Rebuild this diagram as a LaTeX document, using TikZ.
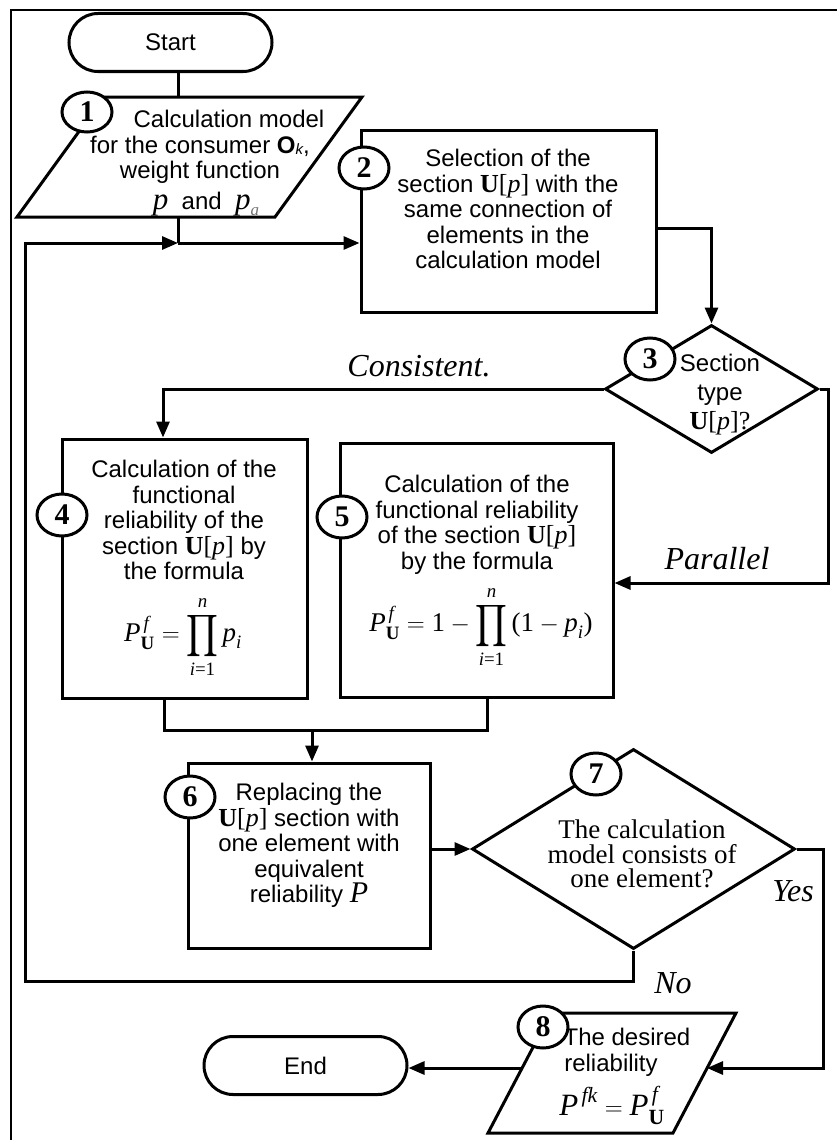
\documentclass[tikz,border=0pt]{standalone}
\usepackage[no-math]{fontspec}
\usepackage{amsmath}
\usepackage{graphicx}
\setmainfont{Liberation Sans}
\newfontfamily\tms{Liberation Serif}
\usetikzlibrary{arrows.meta,shapes.geometric,shapes.misc}
\newcommand{\myit}[1]{\text{\tms\itshape #1}}
\newcommand{\mybf}[1]{\text{\tms\bfseries #1}}
\newcommand{\myrm}[1]{\text{\tms #1}}
\newcommand{\Up}{{\tms\fontsize{26}{25.5}\selectfont\textbf{U}[\textit{p}]}}
\newcommand{\bigprod}{\mathop{\vcenter{\hbox{\scalebox{1}[1.18]{$\displaystyle\prod$}}}}\limits}
\begin{document}
\begin{tikzpicture}[x=1pt,y=-1pt,
  conn/.style={line width=3pt},
  arr/.style={line width=3pt,-{Triangle[length=16pt,width=13pt]}},
  blk/.style={draw,line width=3pt,fill=white,inner sep=0pt},
  term/.style={draw,line width=3pt,rounded rectangle,minimum width=203pt,minimum height=58pt,inner sep=0pt,font=\fontsize{24}{26}\selectfont},
  dia/.style={draw,line width=3pt,diamond,inner sep=0pt,fill=white},
  num/.style={draw,ellipse,line width=3pt,fill=white,minimum width=50pt,minimum height=42pt,inner sep=0pt,font=\tms\bfseries\fontsize{30}{30}\selectfont},
  txt/.style={align=center,inner sep=0pt,font=\fontsize{24}{25.5}\selectfont},
  frm/.style={inner sep=0pt,font=\fontsize{27}{30}\selectfont},
  lab/.style={inner sep=0pt,font=\tms\itshape\fontsize{32}{32}\selectfont}]

\useasboundingbox (0,0) rectangle (837,1140);
\draw[line width=2pt] (837,10) -- (11,10) -- (11,1140);

% shapes
\node[term] (start) at (170.5,42.5) {Start};
\node[term] (end) at (305.5,1065.5) {End};
\draw[conn,fill=white] (104,97) -- (362,97) -- (275,217) -- (17,217) -- cycle;
\coordinate (p1t) at (178,97);
\coordinate (p1b) at (178,217);
\node[blk,minimum width=295pt,minimum height=182pt] (b2) at (508.5,221) {};
\node[dia,minimum width=213pt,minimum height=128pt] (d3) at (711.5,389) {};
\node[blk,minimum width=245pt,minimum height=259pt] (b4) at (184.5,568.5) {};
\node[blk,minimum width=273pt,minimum height=254pt] (b5) at (476.5,570) {};
\node[blk,minimum width=242pt,minimum height=185pt] (b6) at (309,855.5) {};
\node[dia,minimum width=323pt,minimum height=200pt] (d7) at (633.5,849) {};
\draw[conn,fill=white] (551,1013) -- (736,1013) -- (673,1133) -- (488,1133) -- cycle;
\coordinate (p8r) at (707,1068);
\coordinate (p8l) at (522,1068);

\coordinate (j1) at (178,243);
\coordinate (lp) at (25,981);
\coordinate (m) at (312,730);

% connectors
\draw[conn] (start.south -| j1) -- (p1t);
\draw[conn] (p1b) -- (j1);
\draw[arr] (j1) -- (b2.west |- j1);
\draw[arr] ([yshift=-7pt]b2.east) -| (d3.north);
\draw[arr] (d3.west) -| ([xshift=-21.5pt]b4.north);
\draw[arr] (d3.east) -- ++(9,0) |- ([yshift=-13pt]b5.east);
\draw[conn] ([xshift=-20.5pt]b4.south) |- (m) -| ([xshift=10.5pt]b5.south);
\draw[arr] (m) -- (b6.north -| m);
\draw[arr] (b6.east |- d7.west) -- (d7.west);
\draw[arr] (d7.east) -- ++(27,0) |- (p8r);
\draw[arr] (p8l) -- (end.east |- p8l);
\draw[arr] (d7.south) |- (lp) |- (j1);

% texts
\node[txt,anchor=north] (t1) at (200,110) {\hspace*{58pt}Calculation model\\for the consumer \textbf{O}\raisebox{-1pt}{\fontsize{15}{15}\selectfont\itshape k},\\weight function};
\node[txt,anchor=base] (t1b) at (206,209) {{\tms\itshape\fontsize{31}{31}\selectfont p}\ \ and\ \ {\tms\itshape\fontsize{31}{31}\selectfont p}\raisebox{-6pt}{\color{black!55}\tms\itshape\fontsize{17}{17}\selectfont a}};
\node[txt,anchor=north] (t2) at (508,149) {Selection of the\\section \Up{} with the\\same connection of\\elements in the\\calculation model};
\node[txt,anchor=north,font=\fontsize{24}{29}\selectfont] (t3) at (720,354) {Section\\type\\{\tms\fontsize{26}{29}\selectfont\textbf{U}[\textit{p}]?}};
\node[txt,anchor=north] (t4) at (184,460) {Calculation of the\\functional\\reliability of the\\section \Up{} by\\the formula};
\node[txt,anchor=north] (t5) at (477,475) {Calculation of the\\functional reliability\\of the section \Up\\by the formula};
\node[txt,anchor=north] (t6) at (309,783) {Replacing the\\\Up{} section with\\one element with\\equivalent\\reliability {\tms\itshape\fontsize{30}{25}\selectfont P}};
\node[txt,anchor=north,font=\tms\fontsize{27}{24.5}\selectfont] (t7) at (642,820) {The calculation\\model consists of\\one element?};
\node[txt,anchor=north] (t8) at (611,1028) {\hspace*{32pt}The desired\\reliability};

\node[frm] (f4) at (183,637) {$\displaystyle \myit{P}^{\,\myit{f}}_{\mybf{U}} = \bigprod_{\myit{i}\myrm{=1}}^{\myit{n}} \myit{p}_{\myit{i}}$};
\node[frm] (f5) at (481,627) {$\displaystyle \myit{P}^{\,\myit{f}}_{\mybf{U}} = \myrm{1} - \bigprod_{\myit{i}\myrm{=1}}^{\myit{n}} \myrm{(1} - \myit{p}_{\myit{i}}\myrm{)}$};
\node[frm,anchor=base,font=\fontsize{31}{32}\selectfont] (f8) at (612,1115) {$\myit{P}^{\,\myit{fk}} = \myit{P}^{\,\myit{f}}_{\mybf{U}}$};

% labels
\node[lab] (lc) at (419,366) {Consistent.};
\node[lab] (lpar) at (717,559) {Parallel};
\node[lab] (ly) at (793,891) {Yes};
\node[lab] (ln) at (673,983) {No};

% numbers
\node[num,minimum height=40pt] (c1) at (87,112) {1};
\node[num] (c2) at (364,168) {2};
\node[num] (c3) at (650,359) {3};
\node[num] (c4) at (62,515) {4};
\node[num] (c5) at (342,517) {5};
\node[num] (c6) at (190,797) {6};
\node[num] (c7) at (596,774) {7};
\node[num] (c8) at (543,1027) {8};
\end{tikzpicture}
\end{document}
